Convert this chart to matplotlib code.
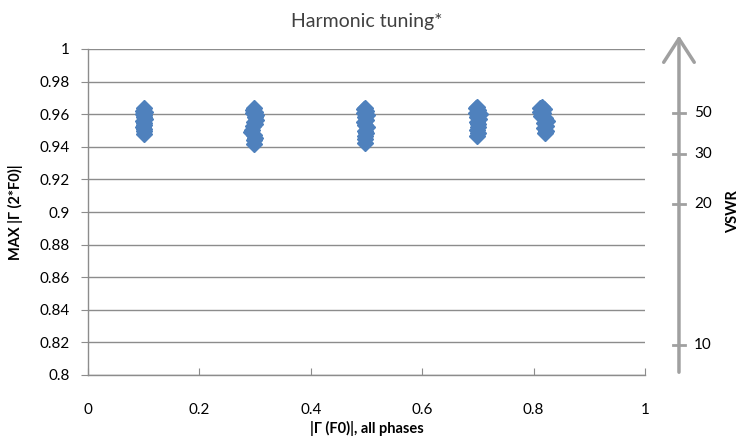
import numpy as np
import matplotlib.pyplot as plt
from matplotlib.transforms import blended_transform_factory
from matplotlib.ticker import FuncFormatter

plt.rcParams['font.family'] = ['Lato', 'DejaVu Sans']

# |Gamma(F0)| (x) vs max |Gamma(2*F0)| (y), one cluster per |Gamma(F0)|, all phases
x_01 = [0.100, 0.098, 0.102, 0.099, 0.101, 0.100, 0.102, 0.099, 0.101, 0.100, 0.099, 0.101, 0.100, 0.100]
y_01 = [0.9635, 0.9620, 0.9615, 0.9600, 0.9595, 0.9580, 0.9570, 0.9560, 0.9545, 0.9535, 0.9520, 0.9510, 0.9495, 0.9478]

x_03 = [0.298, 0.296, 0.300, 0.297, 0.301, 0.299, 0.302, 0.298, 0.300, 0.296, 0.293, 0.295, 0.298, 0.299, 0.298, 0.298]
y_03 = [0.9635, 0.9625, 0.9615, 0.9605, 0.9595, 0.9580, 0.9565, 0.9555, 0.9540, 0.9525, 0.9490, 0.9505, 0.9470, 0.9455, 0.9440, 0.9415]

x_05 = [0.497, 0.495, 0.499, 0.496, 0.500, 0.497, 0.499, 0.496, 0.498, 0.500, 0.497, 0.499, 0.498, 0.497, 0.497]
y_05 = [0.9640, 0.9630, 0.9620, 0.9610, 0.9595, 0.9580, 0.9565, 0.9550, 0.9535, 0.9520, 0.9500, 0.9485, 0.9465, 0.9445, 0.9425]

x_07 = [0.699, 0.696, 0.701, 0.697, 0.703, 0.698, 0.702, 0.699, 0.701, 0.700, 0.698, 0.700, 0.699]
y_07 = [0.9646, 0.9635, 0.9625, 0.9610, 0.9600, 0.9585, 0.9570, 0.9555, 0.9540, 0.9520, 0.9505, 0.9485, 0.9466]

x_082 = [0.815, 0.811, 0.818, 0.812, 0.816, 0.814, 0.820, 0.824, 0.819, 0.823, 0.818, 0.822, 0.821]
y_082 = [0.9645, 0.9635, 0.9630, 0.9615, 0.9605, 0.9590, 0.9575, 0.9560, 0.9545, 0.9530, 0.9515, 0.9500, 0.9486]

x_ticks = [0, 0.2, 0.4, 0.6, 0.8, 1]
y_ticks = [0.8, 0.82, 0.84, 0.86, 0.88, 0.9, 0.92, 0.94, 0.96, 0.98, 1]
vswr_ticks = [10, 20, 30, 50]

blue = '#4F81BD'
grid_gray = '#8c8c8c'
arrow_gray = '#a0a0a0'

fig = plt.figure(figsize=(7.44, 4.45), dpi=100)
ax = fig.add_axes([88 / 744, 1 - 375 / 445, 557 / 744, 326 / 445])

for xs, ys in [(x_01, y_01), (x_03, y_03), (x_05, y_05), (x_07, y_07), (x_082, y_082)]:
    ax.plot(xs, ys, linestyle='none', marker='D', markersize=8.5,
            markerfacecolor=blue, markeredgecolor=blue, markeredgewidth=1.0, zorder=3)

ax.set_xlim(0, 1)
ax.set_ylim(0.8, 1)
ax.set_xticks(x_ticks)
ax.set_yticks(y_ticks)
fmt = FuncFormatter(lambda v, pos: f"{v:g}")
ax.xaxis.set_major_formatter(fmt)
ax.yaxis.set_major_formatter(fmt)

ax.grid(axis='y', color=grid_gray, linewidth=1.0)
ax.set_axisbelow(True)
for side in ['top', 'right']:
    ax.spines[side].set_visible(False)
for side in ['left', 'bottom']:
    ax.spines[side].set_color(grid_gray)
    ax.spines[side].set_linewidth(1.0)

ax.tick_params(axis='x', direction='in', length=5, color=grid_gray, labelsize=11, pad=20)
ax.tick_params(axis='y', direction='out', length=5, color=grid_gray, labelsize=11, pad=8)

ax.set_title('Harmonic tuning*', fontsize=14, fontweight='normal', color='#404040', pad=16)
ax.set_xlabel('|Γ (F0)|, all phases', fontsize=10.5, fontweight='bold', labelpad=3)
ax.set_ylabel('MAX |Γ (2*F0)|', fontsize=10.5, fontweight='bold', labelpad=12)

# VSWR arrow axis on the right, placed at |Gamma| = (VSWR-1)/(VSWR+1)
trans = blended_transform_factory(ax.transAxes, ax.transData)
ax_x = 1.061
ax.annotate('', xy=(ax_x, 1.010), xytext=(ax_x, 0.8), xycoords=trans, textcoords=trans,
            arrowprops=dict(arrowstyle='->,head_length=0.85,head_width=0.55',
                            mutation_scale=20, color=arrow_gray, lw=2.5),
            annotation_clip=False)
for v in vswr_ticks:
    g = (v - 1) / (v + 1)
    ax.plot([ax_x - 0.011, ax_x + 0.011], [g, g], color=arrow_gray, lw=2,
            transform=trans, clip_on=False)
    ax.text(ax_x + 0.027, g, str(v), transform=trans, fontsize=11,
            va='center', ha='left')
ax.text(1.159, 0.9, 'VSWR', transform=trans, fontsize=10.5, fontweight='bold',
        rotation=90, va='center', ha='center')

fig.savefig('out.png', dpi=100)
